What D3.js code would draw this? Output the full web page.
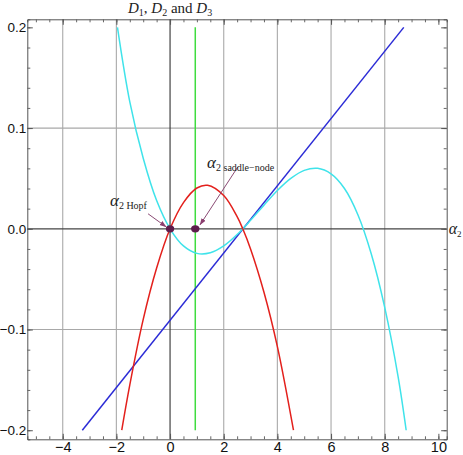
<!DOCTYPE html>
<html>
<head>
<meta charset="utf-8">
<script src="https://cdn.jsdelivr.net/npm/d3@7"></script>
<style>
  body { margin: 0; background: #fff; }
  svg { display: block; font-family: "Liberation Serif", "DejaVu Serif", serif; }
</style>
</head>
<body>
<div id="viz"></div>
<script>
// Datos
const xTicks = [-4, -2, 0, 2, 4, 6, 8, 10];
const yTicks = [-0.2, -0.1, 0.0, 0.1, 0.2];
const xGrid = [-4, -2, 2, 4, 6, 8];
const yGrid = [-0.1, 0.1];

// D1 (rojo)
const redX = [-1.8, -1.5, -1, -0.5, 0, 0.5, 1, 1.4, 2, 2.5, 2.71, 3, 3.5, 4, 4.6];
const redY = [-0.2, -0.155, -0.090, -0.039, 0, 0.026, 0.0405, 0.0432, 0.033, 0.012, 0, -0.020, -0.063, -0.117, -0.2];
// D2 (cian)
const cyanX = [-1.96, -1.5, -1, -0.5, 0, 0.5, 1, 1.5, 2, 2.5, 3, 3.5, 4, 4.5, 5, 5.5, 6, 6.5, 7, 7.5, 8, 8.5, 8.8];
const cyanY = [0.2, 0.126, 0.070, 0.028, 0, -0.017, -0.0244, -0.0238, -0.017, -0.0057, 0.0084, 0.0235, 0.038, 0.050, 0.058, 0.060, 0.0545, 0.040, 0.014, -0.025, -0.078, -0.147, -0.2];
// D3 (azul)
const blueX = [-3.27, 8.71];
const blueY = [-0.2, 0.2];
// Recta vertical (verde)
const greenX = [0.94, 0.94];
const greenY = [-0.2, 0.2];
// Puntos
const ptX = [0, 0.94];
const ptY = [0, 0];

const COLOR_RED = '#e3201c', COLOR_CYAN = '#3fe3ea', COLOR_BLUE = '#2b2bd6', COLOR_GREEN = '#3fdc3f';

let W = 463, H = 455;
let margin = {top: 19.3, right: 16.3, bottom: 15.7, left: 27.3},
    width = W - margin.left - margin.right,
    height = H - margin.top - margin.bottom;

let svg = d3.select('#viz').append('svg').attr('width', W).attr('height', H);
let g = svg.append('g').attr('transform', 'translate(' + margin.left + ',' + margin.top + ')');

let x = d3.scaleLinear().domain([-5.32, 10.31]).range([0, width]);
let y = d3.scaleLinear().domain([-0.209, 0.208]).range([height, 0]);

// Rejilla
g.selectAll('.gx').data(xGrid).enter().append('line')
  .attr('x1', d => x(d)).attr('x2', d => x(d)).attr('y1', 0).attr('y2', height)
  .attr('stroke', '#b0b0b0').attr('stroke-width', 1.2);
g.selectAll('.gy').data(yGrid).enter().append('line')
  .attr('y1', d => y(d)).attr('y2', d => y(d)).attr('x1', 0).attr('x2', width)
  .attr('stroke', '#a8a8a8').attr('stroke-width', 1.2);

// Ejes en cero
g.append('line').attr('x1', x(0)).attr('x2', x(0)).attr('y1', 0).attr('y2', height)
  .attr('stroke', '#333').attr('stroke-width', 1.1);
g.append('line').attr('y1', y(0)).attr('y2', y(0)).attr('x1', 0).attr('x2', width)
  .attr('stroke', '#444').attr('stroke-width', 1.3);

// Marco con ticks (estilo Mathematica, hacia dentro)
function frameAxis(axis, transform, major, minor) {
  let a = g.append('g').attr('transform', transform);
  a.call(axis.tickValues(minor).tickSize(-3).tickFormat(''));
  a.selectAll('.tick line').attr('stroke', '#666');
  a.select('.domain').attr('stroke', '#555');
  let b = g.append('g').attr('transform', transform);
  b.call(axis.tickValues(major).tickSize(-5.5));
  b.select('.domain').remove();
  b.selectAll('.tick line').attr('stroke', '#555');
  return b;
}
const xMinor = d3.range(-5, 10.31, 0.5);
const yMinor = d3.range(-0.2, 0.2001, 0.02);

let bx = frameAxis(d3.axisBottom(x), 'translate(0,' + height + ')', xTicks, xMinor);
bx.selectAll('text').attr('font-size', 14.5).attr('y', 1).attr('dy', '0.8em').attr('fill', '#111')
  .text(d => d < 0 ? '\u2212' + Math.abs(d) : d);
let tx = frameAxis(d3.axisTop(x), 'translate(0,0)', xTicks, xMinor);
tx.selectAll('text').remove();
let ly = frameAxis(d3.axisLeft(y), 'translate(0,0)', yTicks, yMinor);
ly.selectAll('text').attr('font-size', 13.5).attr('x', -1).attr('fill', '#111')
  .text(d => (d < 0 ? '\u2212' : '') + Math.abs(d).toFixed(1));
let ry = frameAxis(d3.axisRight(y), 'translate(' + width + ',0)', yTicks, yMinor);
ry.selectAll('text').remove();

// Curvas
let line = d3.line().x(d => x(d[0])).y(d => y(d[1])).curve(d3.curveCatmullRom);
function series(xs, ys, color) {
  g.append('path').datum(d3.zip(xs, ys))
    .attr('d', line).attr('fill', 'none').attr('stroke', color).attr('stroke-width', 1.5);
}
series(greenX, greenY, COLOR_GREEN);
series(blueX, blueY, COLOR_BLUE);
series(cyanX, cyanY, COLOR_CYAN);
series(redX, redY, COLOR_RED);

// Flechas
svg.append('defs').append('marker')
  .attr('id', 'ah').attr('viewBox', '0 0 10 10').attr('refX', 9).attr('refY', 5)
  .attr('markerWidth', 7).attr('markerHeight', 7).attr('orient', 'auto')
  .append('path').attr('d', 'M0,1.5 L10,5 L0,8.5 Z').attr('fill', '#8a3e6e');
const arrows = [[-0.82, 0.0149, -0.15, 0.002], [2.53, 0.0616, 1.12, 0.004]];
g.selectAll('.arr').data(arrows).enter().append('line')
  .attr('x1', d => x(d[0])).attr('y1', d => y(d[1]))
  .attr('x2', d => x(d[2])).attr('y2', d => y(d[3]))
  .attr('stroke', '#8a4a74').attr('stroke-width', 1).attr('marker-end', 'url(#ah)');

// Puntos
g.selectAll('.pt').data(d3.zip(ptX, ptY)).enter().append('ellipse')
  .attr('cx', d => x(d[0])).attr('cy', d => y(d[1])).attr('rx', 4.2).attr('ry', 3.6)
  .attr('fill', '#5e1c4c');

// Etiquetas
function subLabel(px, py, sub, size) {
  let t = g.append('text').attr('x', px).attr('y', py).attr('fill', '#222');
  t.append('tspan').attr('font-style', 'italic').attr('font-size', size).text('\u03b1');
  t.append('tspan').attr('font-size', 10).attr('dy', 3).text('2 ' + sub);
}
subLabel(x(-2.24), y(0.0228), 'Hopf', 17);
subLabel(x(1.38), y(0.0606), 'saddle\u2212node', 17);

// Etiqueta eje
let al = svg.append('text').attr('x', margin.left + width + 2).attr('y', margin.top + y(0) + 5).attr('fill', '#222');
al.append('tspan').attr('font-style', 'italic').attr('font-size', 16).text('\u03b1');
al.append('tspan').attr('font-size', 9).attr('dy', 3).text('2');

// Título
let tt = svg.append('text').attr('x', margin.left + x(0)).attr('y', 13).attr('text-anchor', 'middle')
  .attr('font-size', 15).attr('fill', '#222');
[['D', '1', ', '], ['D', '2', ' and '], ['D', '3', '']].forEach(p => {
  tt.append('tspan').attr('font-style', 'italic').text(p[0]);
  tt.append('tspan').attr('font-size', 10).attr('dy', 3).text(p[1]);
  tt.append('tspan').attr('dy', -3).text(p[2]);
});
</script>
</body>
</html>
